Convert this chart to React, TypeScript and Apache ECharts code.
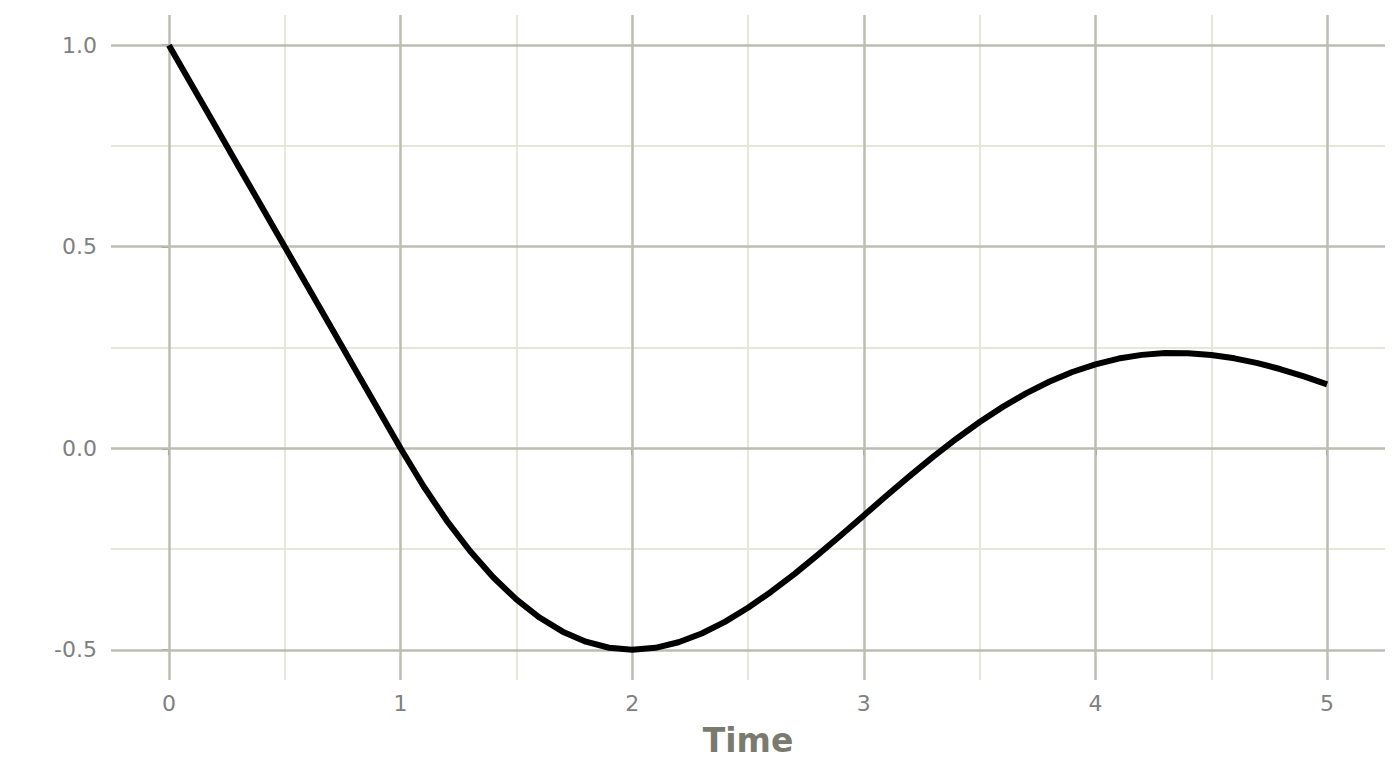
import React, { useEffect, useRef } from "react";
import * as echarts from "echarts";

const timeValues = [
  0, 0.1, 0.2, 0.3, 0.4, 0.5, 0.6, 0.7, 0.8, 0.9,
  1, 1.1, 1.2, 1.3, 1.4, 1.5, 1.6, 1.7, 1.8, 1.9,
  2, 2.1, 2.2, 2.3, 2.4, 2.5, 2.6, 2.7, 2.8, 2.9,
  3, 3.1, 3.2, 3.3, 3.4, 3.5, 3.6, 3.7, 3.8, 3.9,
  4, 4.1, 4.2, 4.3, 4.4, 4.5, 4.6, 4.7, 4.8, 4.9, 5,
];
const responseValues = [
  1, 0.9, 0.8, 0.7, 0.6, 0.5, 0.4, 0.3, 0.2, 0.1,
  0, -0.095, -0.18, -0.255, -0.32, -0.375, -0.42, -0.455, -0.48, -0.495,
  -0.5, -0.4952, -0.4813, -0.4595, -0.4307, -0.3958, -0.356, -0.3122, -0.2653, -0.2165,
  -0.1667, -0.1168, -0.0679, -0.0208, 0.0237, 0.0651, 0.1027, 0.1362, 0.1651, 0.1892,
  0.2083, 0.2225, 0.2317, 0.2362, 0.236, 0.2315, 0.2231, 0.2111, 0.196, 0.1783, 0.1583,
];
const xMajorTicks = [0, 1, 2, 3, 4, 5];
const xMinorTicks = [0.5, 1.5, 2.5, 3.5, 4.5];
const yMajorTicks = [-0.5, 0, 0.5, 1];
const yMinorTicks = [-0.25, 0.25, 0.75];
const xLabel = "Time";

const MAJOR = "#bdbdb3";
const MINOR = "#e6e7d9";
const TICK = "#7f7f7f";
const LABEL = "#808080";

export default function App() {
  const ref = useRef<HTMLDivElement>(null);
  useEffect(() => {
    if (!ref.current) return;
    const chart = echarts.init(ref.current, null, { renderer: "svg" });
    const points = timeValues.map((t, i) => [t, responseValues[i]]);
    const gridLine = (color: string, w: number, z: number) => ({
      silent: true,
      z,
      zlevel: 0,
      symbol: "none",
      label: { show: false },
      lineStyle: { color, width: w, type: "solid" },
      emphasis: { disabled: true },
    });
    chart.setOption({
      animation: false,
      backgroundColor: "#ffffff",
      grid: { left: 111, right: 15, top: 15, bottom: 88 },
      xAxis: {
        type: "value",
        min: -0.25,
        max: 5.25,
        name: xLabel,
        nameLocation: "middle",
        nameGap: 44,
        nameTextStyle: {
          fontFamily: "DejaVu Sans",
          fontWeight: "bold",
          fontSize: 33,
          color: "#7a7a6f",
        },
        axisLine: { show: false },
        splitLine: { show: false },
        axisTick: {
          show: true,
          length: 7,
          customValues: xMajorTicks,
          lineStyle: { color: TICK, width: 2 },
        },
        axisLabel: {
          customValues: xMajorTicks,
          margin: 12,
          fontFamily: "DejaVu Sans",
          fontSize: 22,
          color: LABEL,
          formatter: (v: number) => String(v),
        },
      },
      yAxis: {
        type: "value",
        min: -0.575,
        max: 1.075,
        axisLine: { show: false },
        splitLine: { show: false },
        axisTick: {
          show: true,
          length: 7,
          customValues: yMajorTicks,
          lineStyle: { color: TICK, width: 2 },
        },
        axisLabel: {
          customValues: yMajorTicks,
          margin: 14,
          fontFamily: "DejaVu Sans",
          fontSize: 22,
          color: LABEL,
          formatter: (v: number) => v.toFixed(1),
        },
      },
      series: [
        {
          type: "line",
          data: [],
          z: 1,
          markLine: {
            ...gridLine(MINOR, 2, 1),
            data: [
              ...xMinorTicks.map((v) => ({ xAxis: v })),
              ...yMinorTicks.map((v) => ({ yAxis: v })),
            ],
          },
        },
        {
          type: "line",
          data: [],
          z: 2,
          markLine: {
            ...gridLine(MAJOR, 2.5, 2),
            data: [
              ...xMajorTicks.map((v) => ({ xAxis: v })),
              ...yMajorTicks.map((v) => ({ yAxis: v })),
            ],
          },
        },
        {
          type: "line",
          data: points,
          z: 10,
          showSymbol: false,
          symbol: "none",
          lineStyle: { color: "#000000", width: 6, cap: "butt", join: "round" },
        },
      ],
    });
    return () => chart.dispose();
  }, []);
  return (
    <div
      ref={ref}
      style={{ position: "absolute", left: 0, top: 0, width: 1400, height: 768 }}
    />
  );
}
